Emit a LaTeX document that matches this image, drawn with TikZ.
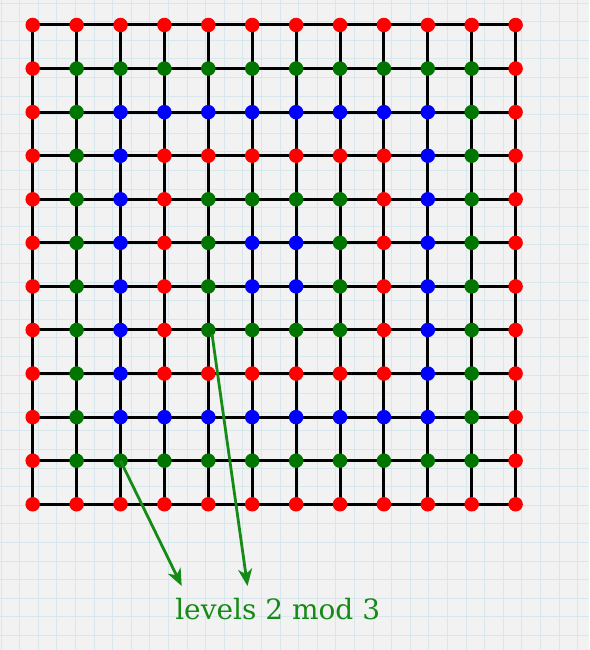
\documentclass[tikz,border=0pt]{standalone}
\usepackage{fontspec}
\newfontfamily\labelfont{DejaVu Serif}
\usetikzlibrary{arrows.meta}
\definecolor{lev0}{RGB}{255,0,0}
\definecolor{lev1}{RGB}{0,118,0}
\definecolor{lev2}{RGB}{0,0,255}
\definecolor{agreen}{RGB}{22,138,22}
\definecolor{paper}{RGB}{242,242,242}
\definecolor{pline}{RGB}{216,231,236}
\tikzset{
  dot/.style={circle, inner sep=0pt, minimum size=14.5pt, draw=none},
  gridline/.style={line width=3pt, black},
  pointer/.style={line width=2.8pt, agreen, -{Stealth[length=17pt,width=14pt,inset=5pt]}},
  paperline/.style={pline, line width=0.8pt}
}
\begin{document}
\begin{tikzpicture}[x=1pt,y=-1pt]
\useasboundingbox (0,0) rectangle (589,650);
\fill[paper] (0,0) rectangle (589,650);
\foreach \k in {0,...,32} {
  \draw[paperline] (1+\k*18.6,0) -- (1+\k*18.6,650);
}
\foreach \k in {0,...,35} {
  \draw[paperline] (0,3+\k*18.6) -- (589,3+\k*18.6);
}
% positions
\foreach \i in {0,...,11} {
  \foreach \j in {0,...,11} {
    \coordinate (c-\i-\j) at (32.7+43.9*\i, 25+43.57*\j);
  }
}
% grid lines
\foreach \k in {0,...,11} {
  \draw[gridline] (c-0-\k) -- (c-11-\k);
  \draw[gridline] (c-\k-0) -- (c-\k-11);
}
% dots
\foreach \i in {0,...,11} {
  \foreach \j in {0,...,11} {
    \pgfmathtruncatemacro{\lv}{min(\i,\j,11-\i,11-\j)}
    \pgfmathtruncatemacro{\m}{mod(\lv,3)}
    \node[dot, fill=lev\m] (d-\i-\j) at (c-\i-\j) {};
  }
}
% arrows and label
\coordinate (a1e) at (181.7,586);
\coordinate (a2s) at (212,334);
\coordinate (a2e) at (247.5,586);
\draw[pointer] (d-2-10.center) -- (a1e);
\draw[pointer] (a2s) -- (a2e);
\node[anchor=base, text=agreen, font=\labelfont\fontsize{28}{32}\selectfont, inner sep=0pt] (lbl) at (277.7,619) {levels 2 mod 3};
\end{tikzpicture}
\end{document}
